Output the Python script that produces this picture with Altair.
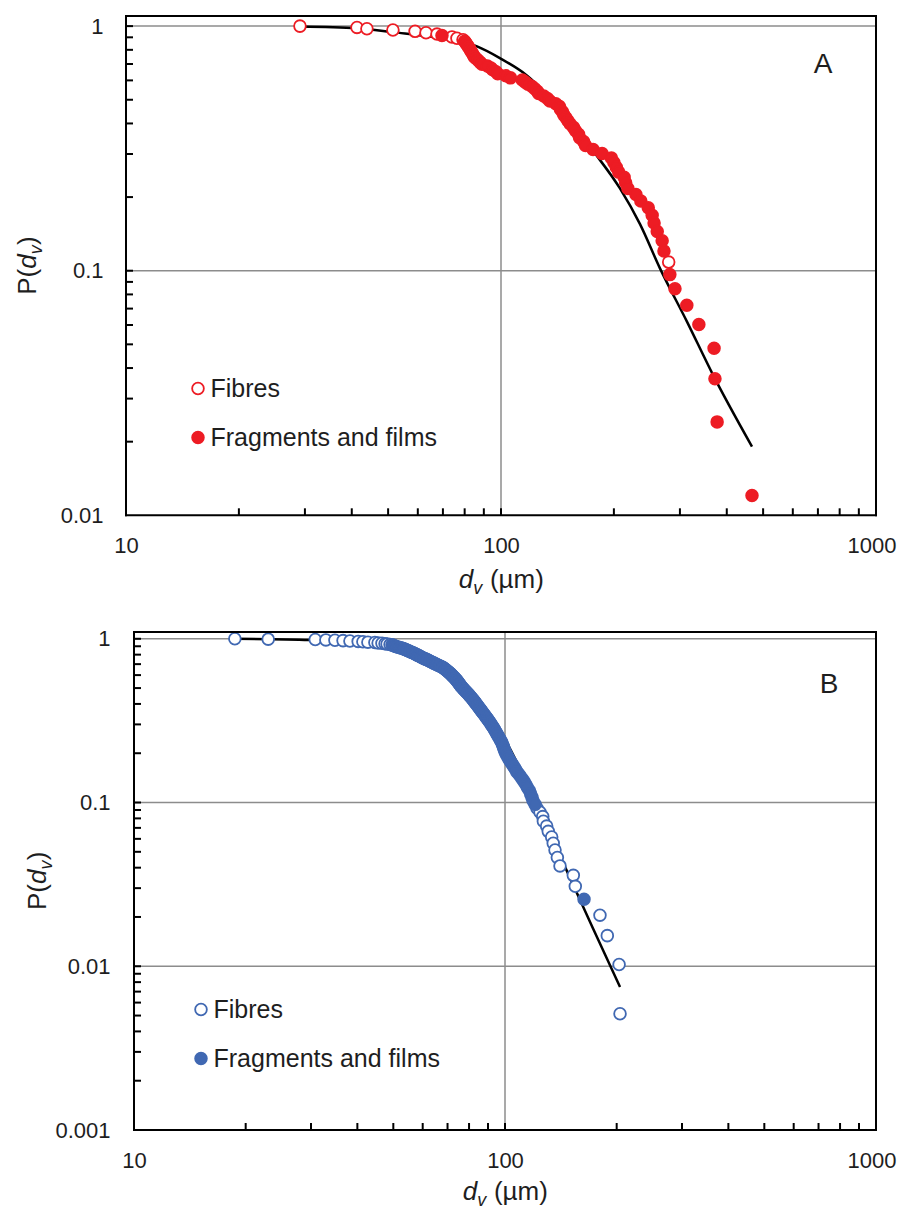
import altair as alt
import pandas as pd

FONT = "Liberation Sans"
RED = "#ed1c24"
BLUE = "#4068b2"
GRID = "#8c8c8c"
TEXT = "#1e1e1e"

CATEGORIES = ["Fibres", "Fragments and films"]

# ---- Panel A: particle sizes d_v (µm) ----
A_fibres = [29.1, 41.3, 43.9, 51.5, 59.0, 63.1, 67.5, 74.0, 76.3, 79.2, 94.0, 280.0]
A_fragments = [69.6, 80.0, 80.5, 81.0, 81.5, 82.0, 82.5, 83.0, 83.5, 84.0, 84.5, 85.0,
               86.0, 87.0, 88.0, 89.0, 92.0, 95.0, 97.0, 98.0, 103.0, 106.0, 114.0,
               116.0, 118.0, 121.0, 123.0, 125.0, 126.0, 130.0, 133.0, 135.0, 140.0,
               143.0, 144.0, 146.0, 147.0, 149.0, 151.0, 153.0, 156.0, 158.0, 161.0,
               162.0, 166.0, 168.0, 176.0, 186.0, 197.0, 200.0, 203.0, 206.0, 213.0,
               215.0, 218.0, 229.0, 236.0, 247.0, 253.0, 256.0, 261.0, 269.0, 272.0,
               282.0, 291.0, 313.0, 337.0, 370.0, 372.0, 377.0, 467.0]
A_fit_d = [29.1, 41.3, 51.5, 68.7, 86.3, 99.3, 117.2, 132.6, 178.0, 207.6, 234.8, 265.6, 313.0, 367.0, 467.0]
A_fit_P = [0.997, 0.981, 0.945, 0.893, 0.826, 0.740, 0.629, 0.526, 0.302, 0.217, 0.155, 0.102, 0.0621, 0.0377, 0.0191]

# ---- Panel B ----
B_fibres = [204.2, 203.0, 188.7, 180.3, 154.7, 152.8, 140.7, 138.4, 136.4, 134.9,
            133.6, 130.8, 129.5, 126.9, 126.4, 124.3, 122.0, 119.0, 116.4,
            112.8, 109.0, 105.9, 103.2, 101.1, 99.6, 98.5, 97.2, 95.7, 94.3,
            93.0, 91.6, 90.2, 88.9, 87.6, 86.3, 85.1, 84.0, 83.0, 81.9,
            80.9, 79.8, 78.8, 77.7, 76.8, 75.9, 75.2, 74.5, 73.8, 73.0,
            72.2, 71.4, 70.5, 69.6, 68.7, 67.6, 66.3, 65.0, 63.6, 62.4,
            61.3, 60.1, 59.1, 58.1, 57.2, 56.1, 55.1, 54.1, 53.1, 51.7, 50.5,
            49.6, 49.0, 48.1, 47.5, 46.6, 45.5, 44.6, 42.7, 41.4, 40.2,
            38.2, 36.6, 34.8, 32.9, 30.8, 23.0, 18.7]
B_fragments = [163.3, 120.5, 118.2, 117.3,
               115.0, 113.9, 111.5, 110.2, 107.7, 106.8, 105.0, 104.1, 102.5, 101.8,
               100.5, 100.0, 99.3, 98.9, 98.2, 97.7, 96.7, 96.2, 95.2, 94.8,
               93.9, 93.4, 92.5, 92.0, 91.1, 90.7, 89.8, 89.3, 88.4, 88.0,
               87.1, 86.7, 85.9, 85.5, 84.8, 84.4, 83.7, 83.3, 82.6, 82.3,
               81.6, 81.2, 80.5, 80.2, 79.5, 79.1, 78.4, 78.1, 77.4, 77.1,
               76.4, 76.1, 75.7, 75.4, 75.0, 74.7, 74.3, 74.0, 73.5, 73.2,
               72.7, 72.4, 71.9, 71.6, 71.1, 70.8, 70.2, 69.9, 69.3, 69.0,
               68.4, 68.1, 67.2, 66.7, 65.8, 65.4, 64.5, 64.1, 63.2, 62.8,
               62.1, 61.7, 60.9, 60.5, 59.8, 59.4, 58.8, 58.4, 57.8, 57.5,
               56.8, 56.5, 55.8, 55.4, 54.8, 54.4, 53.8, 53.4, 52.6, 52.2,
               51.3, 50.8, 50.2, 49.9]
B_fit_d = [18.7, 29.8, 38.9, 50.5, 62.8, 75.6, 88.3, 100.0, 113.2, 128.2, 146.9, 172.7, 204.2]
B_fit_P = [1.0, 0.983, 0.956, 0.898, 0.748, 0.565, 0.381, 0.243, 0.139, 0.0738, 0.0381, 0.0170, 0.00748]

# ---- axes values ----
X_LABELS = [10, 100, 1000]
X_GRID = [100]
X_TICKS = [20, 30, 40, 50, 60, 70, 80, 90, 100, 200, 300, 400, 500, 600, 700, 800, 900]
A_Y_LABELS = [0.01, 0.1, 1]
B_Y_LABELS = [0.001, 0.01, 0.1, 1]
A_Y_GRID = [1, 0.1]
B_Y_GRID = [1, 0.1, 0.01]
A_Y_TICKS = [0.02, 0.03, 0.04, 0.05, 0.06, 0.07, 0.08, 0.09, 0.1,
             0.2, 0.3, 0.4, 0.5, 0.6, 0.7, 0.8, 0.9, 1]
B_Y_TICKS = [0.002, 0.003, 0.004, 0.005, 0.006, 0.007, 0.008, 0.009, 0.01] + A_Y_TICKS

W = 750


def one():
    return alt.Chart(pd.DataFrame({"k": [0]}))


def text_piece(s, x, y, size, style="normal", angle=0, align="left", baseline="alphabetic"):
    return alt.Chart(pd.DataFrame({"t": [s]})).mark_text(
        font=FONT, fontSize=size, fontStyle=style, color=TEXT, angle=angle,
        align=align, baseline=baseline
    ).encode(text="t:N", x=alt.value(x), y=alt.value(y))


def frame_edge(x, x2, y, y2):
    return one().mark_rule(color="black", strokeWidth=2, strokeCap="square").encode(
        x=alt.value(x), x2=alt.value(x2), y=alt.value(y), y2=alt.value(y2))


def panel(fibres, fragments, fit_d, fit_p, y_domain, y_labels, y_grid, y_ticks,
          color, letter, H, x0, legend_xy, label_off, letter_xy, ytitle_x, xtitle_dy,
          ylab_pad, guard=None):
    cat_fib, cat_frag = CATEGORIES
    pts = pd.DataFrame({"d": fibres + fragments,
                        "type": [cat_fib] * len(fibres) + [cat_frag] * len(fragments)})
    xs = alt.Scale(type="log", domain=[10, 1000], range=[x0, W], nice=False)
    ys = alt.Scale(type="log", domain=y_domain, nice=False)
    xaxis = alt.Axis(values=X_LABELS, format="~g", title=None, grid=False, ticks=False,
                     domain=False, labelFont=FONT, labelFontSize=22, labelColor=TEXT,
                     labelPadding=20, labelFlush=False, labelOverlap=False,
                     labelAlign={"condition": {"test": "datum.value >= 1000", "value": "right"},
                                 "value": "center"},
                     labelOffset={"condition": {"test": "datum.value >= 1000", "value": 20},
                                  "value": 0})
    yaxis = alt.Axis(values=y_labels, format="~g", title=None, grid=False, ticks=False,
                     domain=False, labelFont=FONT, labelFontSize=22, labelColor=TEXT,
                     labelPadding=ylab_pad, labelOverlap=False)

    def X(f):
        return alt.X(f, type="quantitative", scale=xs, axis=xaxis)

    def Y(f):
        return alt.Y(f, type="quantitative", scale=ys, axis=yaxis)

    layers = []
    if guard is not None:
        layers.append(one().mark_rule(color="white", strokeWidth=1).encode(
            x=alt.value(guard), x2=alt.value(guard + 1), y=alt.value(H / 2)))

    # decade grid lines
    layers.append(alt.Chart(pd.DataFrame({"P": y_grid})).mark_rule(color=GRID, strokeWidth=1.5).encode(
        y=Y("P"), x=alt.value(x0), x2=alt.value(W)))
    layers.append(alt.Chart(pd.DataFrame({"d": X_GRID})).mark_rule(color=GRID, strokeWidth=1.5).encode(
        x=X("d"), y=alt.value(0), y2=alt.value(H)))

    # fitted curve
    layers.append(alt.Chart(pd.DataFrame({"d": fit_d, "P": fit_p})).mark_line(
        color="black", strokeWidth=2.5, interpolate="monotone").encode(x=X("d"), y=Y("P")))

    # exceedance probability: rank (largest first) / number of particles
    ranked = alt.Chart(pts).transform_window(
        rn="row_number()", sort=[alt.SortField("d", order="descending")]
    ).transform_joinaggregate(N="count()").transform_calculate(P="datum.rn / datum.N")

    legend = alt.Legend(title=None, orient="none", legendX=legend_xy[0], legendY=legend_xy[1],
                        direction="vertical", labelFont=FONT, labelFontSize=25, labelColor=TEXT,
                        labelLimit=500, symbolType="circle", symbolSize=137,
                        symbolStrokeWidth=1.8, symbolStrokeColor=color, symbolOpacity=1,
                        rowPadding=23, labelOffset=label_off, padding=0)
    fill = alt.Fill("type:N", scale=alt.Scale(domain=CATEGORIES, range=["white", color]), legend=legend)

    for cat in (cat_fib, cat_frag):
        layers.append(ranked.transform_filter(alt.datum.type == cat).mark_point(
            shape="circle", filled=True, size=137, stroke=color, strokeWidth=1.8, opacity=1
        ).encode(x=X("d"), y=Y("P"), fill=fill, order=alt.Order("d:Q", sort="ascending")))

    # inner tick marks
    layers.append(alt.Chart(pd.DataFrame({"d": X_TICKS})).mark_rule(color="black", strokeWidth=2).encode(
        x=X("d"), y=alt.value(H), y2=alt.value(H - 7)))
    layers.append(alt.Chart(pd.DataFrame({"P": y_ticks})).mark_rule(color="black", strokeWidth=2).encode(
        y=Y("P"), x=alt.value(x0), x2=alt.value(x0 + 7)))

    # plot frame
    layers += [frame_edge(x0, W, 0, 0), frame_edge(x0, W, H, H),
               frame_edge(x0, x0, 0, H), frame_edge(W, W, 0, H)]

    layers.append(text_piece(letter, letter_xy[0], letter_xy[1], 28, align="center", baseline="middle"))

    # x title: d_v (µm)
    sx = (x0 + W) / 2 - 42.3
    by = H + xtitle_dy
    layers.append(text_piece("d", sx, by, 26, "italic"))
    layers.append(text_piece("v", sx + 14.5, by + 6, 18, "italic"))
    layers.append(text_piece("(µm)", sx + 14.5 + 9.5 + 7.2, by, 26))

    # y title: P(d_v), rotated
    y0 = H / 2 + 29.1
    layers.append(text_piece("P(", ytitle_x, y0, 26, angle=270))
    layers.append(text_piece("d", ytitle_x, y0 - 26.0, 26, "italic", angle=270))
    layers.append(text_piece("v", ytitle_x + 6, y0 - 40.5, 18, "italic", angle=270))
    layers.append(text_piece(")", ytitle_x, y0 - 49.8, 26, angle=270))

    return alt.layer(*layers).properties(width=W, height=H)


pA = panel(A_fibres, A_fragments, A_fit_d, A_fit_P, [0.01, 1.1], A_Y_LABELS, A_Y_GRID, A_Y_TICKS,
           RED, "A", 499.3, 0, (59.5, 360), 0, (697, 49), -90, 73, 23, guard=-112)
pB = panel(B_fibres, B_fragments, B_fit_d, B_fit_P, [0.001, 1.1], B_Y_LABELS, B_Y_GRID, B_Y_TICKS,
           BLUE, "B", 498, 8, (62.5, 365), 0, (703, 53), -80, 70, 16)

chart = alt.concat(pA, pB, columns=1, spacing=28,
                   padding={"left": 5, "top": 6, "right": 0, "bottom": 0},
                   background="white").resolve_scale(
    fill="independent", x="independent", y="independent"
).resolve_legend(fill="independent").configure_view(stroke="transparent")

chart.save("out.html", embed_options={"renderer": "svg", "actions": False})
